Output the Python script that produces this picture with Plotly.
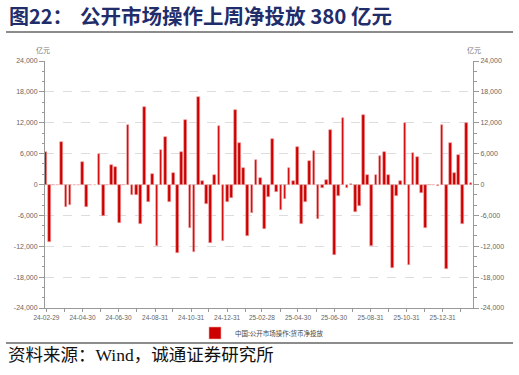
import pandas as pd
import plotly.graph_objects as go

# Weekly net injection via open market operations (亿元)
net_injection = [
    6300, -11200, -150, -100, 8200, -4400, -3900, 0, 0, 4300,
    -4400, 0, 0, 5900, -6100, 0, 3800, 3400, -7400, 0,
    11600, -2000, -2000, -7600, 15100, -3400, 2000, -11900, 6700, 9200,
    -3400, 2300, -13400, 6400, 12500, -8500, -13100, 17100, 650, -3700,
    -11300, 1800, 11400, -10900, -3400, -2600, 14500, 8100, 3200, -10100,
    -5600, 4800, 1300, -8700, -2500, 8800, -1400, -5000, -2800, 3200,
    650, 7300, -7700, -3400, 4500, 6500, -6700, -650, 900, 10600,
    -13700, -2200, 12900, -650, 50, -5300, -4100, 13500, 1900, -12000,
    1900, 5600, 6300, 1900, -16300, -2300, 700, 11900, -15700, 6100,
    5400, -1600, -8500, -50, -100, -300, 11600, -16500, 8100, 2300,
    5700, -7600, 12000, 380,
]
week_dates = pd.date_range("2024-02-27", periods=len(net_injection), freq="7D")

tick_dates = [
    "2024-02-29", "2024-03-31", "2024-04-30", "2024-05-31", "2024-06-30", "2024-07-31",
    "2024-08-31", "2024-09-30", "2024-10-31", "2024-11-30", "2024-12-31", "2025-01-31",
    "2025-02-28", "2025-03-31", "2025-04-30", "2025-05-31", "2025-06-30", "2025-07-31",
    "2025-08-31", "2025-09-30", "2025-10-31", "2025-11-30", "2025-12-31", "2026-01-31",
]
tick_labels = [
    "24-02-29", "", "24-04-30", "", "24-06-30", "", "24-08-31", "", "24-10-31", "",
    "24-12-31", "", "25-02-28", "", "25-04-30", "", "25-06-30", "", "25-08-31", "",
    "25-10-31", "", "25-12-31", "",
]
y_tick_vals = [-24000, -18000, -12000, -6000, 0, 6000, 12000, 18000, 24000]
y_tick_text = ["-24,000", "-18,000", "-12,000", "-6,000", "0", "6,000", "12,000", "18,000", "24,000"]

series_name = "中国:公开市场操作:货币净投放"
title_prefix = "图22："
title_main = "公开市场操作上周净投放 380 亿元"
source_text = "资料来源：Wind，诚通证券研究所"
unit_text = "亿元"

DAY_MS = 86400000
LATIN = "Liberation Sans, Arial, Noto Sans CJK SC, sans-serif"
CJK = "Noto Sans CJK SC, sans-serif"

fig = go.Figure()
fig.add_trace(go.Bar(
    x=week_dates, y=net_injection, name=series_name,
    marker=dict(color="#CC0000", line=dict(color="#F0A8A8", width=0.6)),
    width=4.6 * DAY_MS,
))
# invisible companion so the right-hand axis is drawn
fig.add_trace(go.Scatter(
    x=week_dates, y=net_injection, yaxis="y2", mode="none",
    showlegend=False, hoverinfo="skip",
))

W, H = 519, 375
L, R, T, B = 45, 46, 61, 67
pw, ph = W - L - R, H - T - B

def xp(px):
    return (px - L) / pw

def yp(py):
    return (H - B - py) / ph

axis_common = dict(
    range=[-24000, 24000], tickmode="array", tickvals=y_tick_vals, ticktext=y_tick_text,
    ticks="outside", ticklen=5, tickcolor="#999999", tickwidth=1,
    showline=True, linecolor="#999999", linewidth=1, zeroline=False,
    tickfont=dict(family=LATIN, size=7, color="#666666"),
    minor=dict(dtick=2000, tick0=0, ticks="outside", ticklen=2.5, tickcolor="#999999", showgrid=False),
)

fig.update_layout(
    width=W, height=H, margin=dict(l=L, r=R, t=T, b=B),
    paper_bgcolor="white", plot_bgcolor="white",
    showlegend=True, bargap=0,
    xaxis=dict(
        type="date", range=["2024-02-26 12:00", "2026-02-20 10:00"],
        tickmode="array", tickvals=tick_dates, ticktext=tick_labels,
        ticks="outside", ticklen=3, tickcolor="#999999",
        showline=True, linecolor="#999999", linewidth=1, showgrid=False, zeroline=False,
        tickfont=dict(family=LATIN, size=6.5, color="#666666"), tickangle=0,
    ),
    yaxis=dict(**axis_common, showgrid=True, gridcolor="#DDDDDD", griddash="dash", gridwidth=1),
    yaxis2=dict(**axis_common, overlaying="y", side="right", showgrid=False),
    legend=dict(
        orientation="h", x=xp(262), xanchor="center", y=yp(333), yanchor="middle",
        font=dict(family=CJK, size=6.5, color="#444444"), itemwidth=30,
        bgcolor="rgba(0,0,0,0)",
    ),
)

fig.add_annotation(x=xp(7), y=yp(15), xref="paper", yref="paper", xanchor="left", yanchor="middle",
                   text="<b>" + title_prefix + "</b>", showarrow=False,
                   font=dict(family=CJK, size=20, color="#1F2D6B"))
fig.add_annotation(x=xp(78), y=yp(15), xref="paper", yref="paper", xanchor="left", yanchor="middle",
                   text="<b>" + title_main + "</b>", showarrow=False,
                   font=dict(family=CJK, size=20.5, color="#1F2D6B"))
fig.add_annotation(x=xp(6), y=yp(355), xref="paper", yref="paper", xanchor="left", yanchor="middle",
                   text=source_text, showarrow=False,
                   font=dict(family="Liberation Serif, Noto Sans CJK SC, serif", size=17.5, color="#111111"))
fig.add_annotation(x=xp(43), y=yp(50), xref="paper", yref="paper", xanchor="center", yanchor="middle",
                   text=unit_text, showarrow=False, font=dict(family=CJK, size=7, color="#777777"))
fig.add_annotation(x=xp(474), y=yp(50), xref="paper", yref="paper", xanchor="center", yanchor="middle",
                   text=unit_text, showarrow=False, font=dict(family=CJK, size=7, color="#777777"))

for py in (32, 343):
    fig.add_shape(type="line", xref="paper", yref="paper", x0=xp(6), x1=xp(513), y0=yp(py), y1=yp(py),
                  line=dict(color="#8C8C8C", width=2))

fig.write_html(
    "out.html",
    config={"displayModeBar": False},
    post_script="document.body.style.margin='0px';document.body.style.overflow='hidden';",
)
